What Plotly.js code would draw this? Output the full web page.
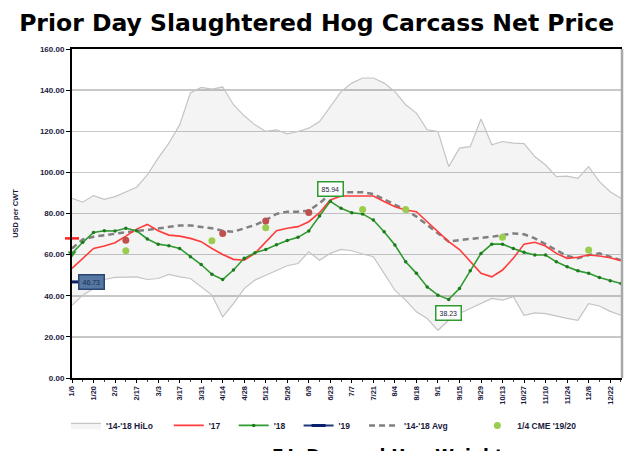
<!DOCTYPE html>
<html>
<head>
<meta charset="utf-8">
<script src="https://cdn.plot.ly/plotly-3.0.1.min.js"></script>
<style>html,body{margin:0;padding:0;background:#fff;}#chart{width:627px;height:451px;}</style>
</head>
<body>
<div id="chart"></div>
<script>
// Weekly categories (week ending dates)
const weeks = ["1/6","1/13","1/20","1/27","2/3","2/10","2/17","2/24","3/3","3/10","3/17","3/24","3/31","4/7","4/14","4/21","4/28","5/5","5/12","5/19","5/26","6/2","6/9","6/16","6/23","6/30","7/7","7/14","7/21","7/28","8/4","8/11","8/18","8/25","9/1","9/8","9/15","9/22","9/29","10/6","10/13","10/20","10/27","11/3","11/10","11/17","11/24","12/1","12/8","12/15","12/22","12/29"];

// '14-'18 high and low
const hi1418 = [87.4,85.5,88.7,86.9,88.2,90.6,92.8,98.8,106.9,114.2,123.1,138.6,141.3,140.5,141.5,132.9,127.5,123.1,119.9,120.7,118.7,119.9,121.5,124.7,132.0,139.3,143.4,145.9,145.9,143.4,139.3,132.9,128.8,120.7,119.9,102.8,111.8,112.5,126.0,113.4,115.0,114.2,114.0,107.7,103.6,97.9,98.2,97.1,102.8,95.5,90.6,87.4];
const lo1418 = [35.4,40.3,43.5,47.9,48.9,48.9,49.2,47.9,48.4,50.4,49.2,48.4,44.3,40.3,29.7,36.2,43.5,47.6,50.0,52.5,54.6,55.7,61.4,57.3,60.6,62.5,61.9,60.3,59.0,50.9,42.7,37.9,32.2,28.9,23.2,28.1,31.4,33.8,36.2,38.7,37.9,39.5,30.5,31.7,31.3,30.1,29.0,28.1,36.2,35.0,32.4,30.5];
// '14-'18 average
const avg1418 = [63.0,67.4,68.7,69.5,70.3,71.0,71.6,72.0,72.8,73.6,74.2,74.2,73.6,72.8,71.6,71.1,72.8,74.4,76.8,79.8,80.9,80.9,81.4,85.0,89.5,90.3,90.3,90.3,89.5,86.9,84.1,81.7,78.5,74.4,70.3,66.3,67.1,67.6,67.9,68.7,69.5,70.3,69.9,67.9,65.1,62.2,59.3,58.2,59.8,60.6,59.0,57.3];
// 2017
const y2017 = [53.3,58.2,63.0,64.2,65.8,69.0,72.4,74.7,71.6,69.5,69.0,67.9,66.3,63.0,60.1,57.7,57.3,60.6,66.3,71.6,72.8,73.6,76.0,80.4,86.6,88.5,88.5,88.5,88.5,85.8,83.3,81.7,80.9,76.0,71.1,66.3,62.5,56.5,50.9,49.2,52.5,58.2,65.1,66.0,64.2,60.6,58.2,58.7,59.8,59.3,58.5,57.0];
// 2018
const y2018 = [60.6,66.0,70.8,71.6,71.5,72.8,71.6,67.6,65.1,64.3,63.0,59.0,55.2,50.4,47.9,52.5,58.2,60.9,62.5,64.8,66.9,68.4,71.5,78.8,85.94,82.5,80.4,79.8,76.8,71.1,64.7,56.5,50.9,44.3,40.3,38.23,43.5,52.1,60.6,65.1,65.1,63.0,61.1,59.8,59.8,56.5,54.1,52.1,50.9,48.9,47.3,46.0];
// 2019 (year to date)
const y2019 = [46.73];
// 1/4 CME '19/20 futures
const cmeWeeks = ["2/10","4/7","5/12","7/14","8/11","10/13","12/8"];
const cmeValues = [61.9,66.8,73.1,82.0,82.0,68.4,62.2];
// earlier futures (red dots, not in legend)
const futWeeks = ["2/10","4/14","5/12","6/9"];
const futValues = [67.0,70.3,76.3,80.5];
// start-of-year markers at the axis
const startRed = [67.9];
const startGreen = [60.6];

const idx = w => weeks.indexOf(w);
const xs = weeks.map((w, i) => i);
const tickIdx = xs.filter(i => i % 2 === 0);

const peakI = y2018.indexOf(Math.max(...y2018.slice(20, 30)));
const lowI = y2018.indexOf(Math.min(...y2018.slice(30, 40)));

const traces = [
  {x: xs, y: lo1418, type: 'scatter', mode: 'lines', line: {color: '#c4c4c4', width: 1.2}, showlegend: false, hoverinfo: 'skip'},
  {x: xs, y: hi1418, type: 'scatter', mode: 'lines', name: "'14-'18 HiLo", fill: 'tonexty', fillcolor: 'rgba(0,0,0,0.045)', line: {color: '#c4c4c4', width: 1.2}, legend: 'legend'},
  {x: xs, y: avg1418, type: 'scatter', mode: 'lines', name: "'14-'18 Avg", line: {color: '#808080', width: 2.5, dash: '6px,4px'}, legend: 'legend5'},
  {x: xs, y: y2017, type: 'scatter', mode: 'lines', name: "'17", line: {color: '#ff3b3b', width: 1.6}, legend: 'legend2'},
  {x: xs, y: y2018, type: 'scatter', mode: 'lines+markers', name: "'18", line: {color: '#2f9a2f', width: 1.6}, marker: {color: '#1f7a1f', size: 3.5}, legend: 'legend3'},
  {x: y2019.map((v, i) => i), y: y2019, type: 'scatter', mode: 'lines+markers', name: "'19", line: {color: '#1f3a7a', width: 2}, marker: {color: '#0a1f6e', symbol: 'line-ew-open', size: 10, line: {width: 3, color: '#0a1f6e'}}, legend: 'legend4'},
  {x: cmeWeeks.map(idx), y: cmeValues, type: 'scatter', mode: 'markers', name: "1/4 CME '19/20", marker: {color: '#9acd4c', size: 7, symbol: 'circle'}, legend: 'legend6'},
  {x: futWeeks.map(idx), y: futValues, type: 'scatter', mode: 'markers', showlegend: false, marker: {color: '#c0504d', size: 7}},
  {x: [0], y: startRed, type: 'scatter', mode: 'markers', showlegend: false, cliponaxis: false, marker: {color: '#ff2020', symbol: 'line-ew-open', size: 10, line: {width: 2.5, color: '#ff2020'}}},
  {x: [0], y: startGreen, type: 'scatter', mode: 'markers', showlegend: false, cliponaxis: false, marker: {color: '#2f9a2f', symbol: 'triangle-down', size: 8}}
];

const legendBase = {orientation: 'h', traceorder: 'normal', xanchor: 'left', y: -0.1, yanchor: 'top', font: {size: 8.5, weight: 'bold', color: '#1a1a40'}, itemwidth: 30, bgcolor: 'rgba(0,0,0,0)'};
const legendX = [-0.011, 0.176, 0.294, 0.412, 0.531, 0.737];

const layout = {
  width: 627, height: 451,
  margin: {l: 72, r: 5, t: 49, b: 73},
  paper_bgcolor: '#ffffff', plot_bgcolor: '#ffffff',
  font: {family: 'Liberation Sans, Arial, sans-serif', color: '#1a1a40'},
  title: {text: 'Prior Day Slaughtered Hog Carcass Net Price', font: {family: 'DejaVu Sans, Verdana, sans-serif', size: 23.5, color: '#000000', weight: 'bold'}, x: 0.505, xanchor: 'center', y: 0.95, yanchor: 'middle'},
  xaxis: {
    range: [0, 51.1], tickmode: 'array', tickvals: tickIdx, ticktext: tickIdx.map(i => weeks[i]),
    tickangle: -90, tickfont: {size: 7.5, weight: 'bold', color: '#1a1a40'},
    showline: true, linecolor: '#000', linewidth: 2, mirror: true,
    ticks: 'outside', ticklen: 3, tickcolor: '#000', tickwidth: 1,
    minor: {tickmode: 'linear', tick0: 0, dtick: 1, ticks: 'outside', ticklen: 2, tickcolor: '#444', showgrid: false},
    showgrid: false, zeroline: false, fixedrange: true
  },
  yaxis: {
    range: [0, 160], tickmode: 'linear', tick0: 0, dtick: 20, tickformat: '.2f',
    tickfont: {size: 8, weight: 'bold', color: '#1a1a40'},
    showline: true, linecolor: '#000', linewidth: 2,
    ticks: 'outside', ticklen: 4, tickcolor: '#000',
    gridcolor: '#c8c8c8', gridwidth: 1.5, zeroline: false,
    title: {text: 'USD per CWT', font: {size: 7.5, weight: 'bold', color: '#1a1a40'}, standoff: 20}
  },
  legend: Object.assign({}, legendBase, {x: legendX[0]}),
  legend2: Object.assign({}, legendBase, {x: legendX[1]}),
  legend3: Object.assign({}, legendBase, {x: legendX[2]}),
  legend4: Object.assign({}, legendBase, {x: legendX[3]}),
  legend5: Object.assign({}, legendBase, {x: legendX[4]}),
  legend6: Object.assign({}, legendBase, {x: legendX[5]}),
  shapes: [
    {type: 'line', xref: 'paper', yref: 'paper', x0: 1, x1: 1, y0: 0, y1: 1, line: {color: '#a8a8a8', width: 2.5}}
  ],
  annotations: [
    {x: 0, y: y2019[0], xref: 'x', yref: 'y', text: y2019[0].toFixed(2), showarrow: false, xanchor: 'left', xshift: 6, font: {size: 7, color: '#1a2a4a'}, bgcolor: '#5577a3', bordercolor: '#2a4670', borderwidth: 1.5, borderpad: 3},
    {x: peakI, y: y2018[peakI], xref: 'x', yref: 'y', text: y2018[peakI].toFixed(2), showarrow: false, yshift: 12, font: {size: 7, color: '#1a1a40'}, bgcolor: '#ffffff', bordercolor: '#2f9a2f', borderwidth: 1.5, borderpad: 3},
    {x: lowI, y: y2018[lowI], xref: 'x', yref: 'y', text: y2018[lowI].toFixed(2), showarrow: false, yshift: -14, font: {size: 7, color: '#1a1a40'}, bgcolor: '#ffffff', bordercolor: '#2f9a2f', borderwidth: 1.5, borderpad: 3},
    {x: 0.5, y: -0.2, xref: 'paper', yref: 'paper', xanchor: 'center', yanchor: 'top', text: 'F.I. Demand Hog Weights', showarrow: false, xshift: 45, font: {family: 'DejaVu Sans, Verdana, sans-serif', size: 17, color: '#000', weight: 'bold'}}
  ]
};

Plotly.newPlot('chart', traces, layout, {staticPlot: true, displayModeBar: false});
</script>
</body>
</html>
